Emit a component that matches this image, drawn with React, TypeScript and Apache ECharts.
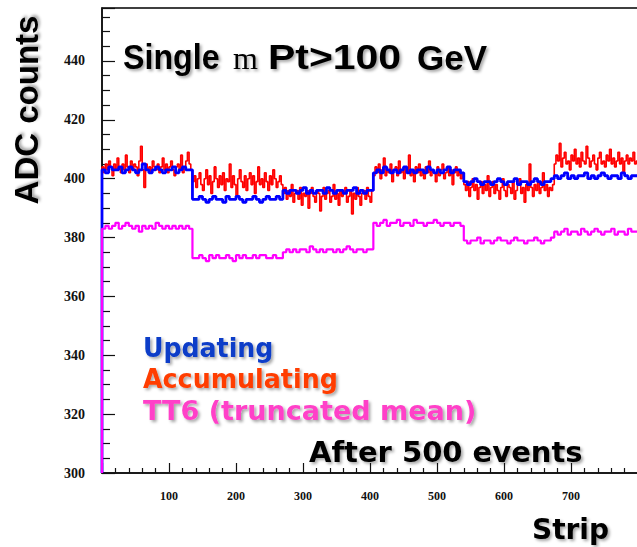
import React, { useEffect, useRef } from "react";
import * as echarts from "echarts";

// Pedestal levels (ADC counts), chip by chip, in strip groups.
const STRIP_MAX = 800;
const ACC_BIN = 2.5; // strips per value, accumulating pedestal
const BIN = 5; // strips per value, updating and TT6

const accumulating = [
  // strips 0-135
  404, 402, 405, 403, 406, 404, 401, 405, 403,
  407, 404, 402, 405, 403, 408, 404, 402, 406,
  403, 405, 404, 401, 406, 411, 403, 397, 405,
  403, 404, 402, 406, 404, 403, 405, 402, 404,
  407, 403, 405, 402, 404, 406, 403, 401, 404,
  405, 403, 408, 402, 404, 406, 409, 405, 403,
  // strips 135-270
  399, 401, 397, 400, 402, 398, 396, 400, 403,
  398, 401, 395, 399, 404, 400, 397, 401, 398,
  402, 396, 400, 399, 405, 397, 401, 398, 394,
  400, 403, 399, 397, 401, 396, 400, 402, 398,
  401, 395, 399, 404, 398, 400, 397, 402, 399,
  396, 401, 398, 403, 400, 397, 399, 401, 398,
  // strips 270-405
  395, 397, 393, 396, 394, 398, 392, 395, 396,
  393, 397, 391, 395, 394, 396, 390, 395, 397,
  394, 392, 396, 395, 389, 394, 397, 393, 395,
  396, 392, 394, 398, 393, 395, 391, 396, 394,
  395, 397, 392, 394, 396, 388, 395, 393, 397,
  394, 391, 395, 396, 393, 397, 394, 392, 396,
  // strips 405-540
  401, 404, 402, 405, 400, 403, 407, 401, 403,
  402, 405, 399, 403, 404, 401, 406, 402, 403,
  400, 404, 402, 408, 401, 403, 399, 404, 402,
  405, 401, 403, 400, 404, 402, 406, 401, 403,
  402, 399, 404, 401, 403, 405, 400, 402, 404,
  401, 403, 398, 402, 404, 401, 403, 400, 402,
  // strips 540-675
  398, 396, 399, 394, 397, 400, 396, 398, 393,
  397, 399, 395, 398, 396, 401, 394, 397, 399,
  395, 398, 396, 393, 397, 400, 396, 394, 398,
  397, 395, 399, 393, 396, 398, 400, 395, 397,
  392, 398, 396, 405, 397, 394, 398, 396, 399,
  395, 397, 402, 396, 398, 394, 397, 396, 398,
  // strips 675-800
  405, 408, 406, 412, 404, 407, 409, 405, 406,
  403, 408, 406, 410, 405, 407, 404, 409, 406,
  405, 411, 407, 404, 406, 408, 405, 403, 407,
  409, 405, 406, 404, 408, 406, 410, 405, 407,
  404, 406, 409, 405, 407, 402, 406, 408, 405,
  407, 406, 409, 405, 406,
];

const updating = [
  403, 402, 404, 403, 403, 404, 402, 403, 404, 403, 402, 403, 405, 403, 402, 403, 404, 403, 402, 403, 403, 404, 402, 403, 404, 403, 403,
  393, 393, 394, 393, 392, 393, 394, 393, 393, 392, 394, 393, 393, 394, 393, 392, 393, 393, 394, 393, 392, 393, 394, 393, 393, 394, 393,
  396, 395, 396, 396, 395, 396, 397, 395, 396, 395, 396, 396, 395, 397, 396, 395, 396, 396, 395, 396, 396, 397, 395, 396, 395, 396, 396,
  402, 403, 402, 404, 403, 402, 403, 402, 403, 404, 402, 403, 402, 403, 403, 402, 404, 403, 402, 403, 402, 403, 404, 402, 403, 403, 402,
  399, 398, 399, 400, 399, 398, 399, 399, 398, 399, 400, 399, 398, 399, 399, 400, 398, 399, 399, 398, 399, 400, 399, 398, 399, 399, 400,
  401, 400, 401, 402, 400, 401, 400, 401, 401, 402, 400, 401, 400, 401, 402, 401, 400, 401, 401, 400, 402, 401, 400, 401, 401,
];

const truncatedMean = [
  383, 384, 383, 384, 385, 383, 384, 385, 384, 383, 384, 382, 384, 383, 384, 383, 385, 384, 383, 384, 383, 384, 383, 384, 383, 384, 383,
  373, 373, 374, 373, 372, 374, 373, 374, 373, 373, 374, 373, 372, 374, 373, 374, 373, 373, 374, 373, 374, 374, 373, 373, 374, 373, 373,
  375, 376, 375, 376, 375, 376, 376, 375, 377, 376, 375, 376, 375, 376, 376, 375, 376, 375, 376, 377, 376, 375, 376, 376, 375, 376, 376,
  385, 384, 385, 386, 384, 385, 385, 386, 384, 385, 385, 384, 386, 385, 385, 384, 385, 385, 386, 385, 384, 385, 385, 384, 385, 385, 384,
  379, 378, 379, 379, 380, 378, 379, 379, 378, 379, 380, 379, 379, 378, 379, 380, 379, 379, 378, 379, 379, 380, 379, 378, 379, 379, 380,
  382, 381, 382, 383, 381, 382, 382, 381, 383, 382, 381, 382, 383, 382, 381, 382, 382, 383, 381, 382, 382, 381, 383, 382, 382,
];

const Y_MIN = 300;
const Y_MAX = 458;

// Histogram outline: rises from the axis floor at strip 0, one step per bin.
function histogram(values: number[], binWidth: number) {
  const pts: number[][] = [[0, Y_MIN]];
  values.forEach((v, i) => pts.push([i * binWidth, v]));
  pts.push([STRIP_MAX, values[values.length - 1]]);
  return pts;
}

const shadow = {
  textShadowColor: "rgba(0,0,0,0.35)",
  textShadowBlur: 3,
  textShadowOffsetX: 2,
  textShadowOffsetY: 2,
};

function label(
  text: string,
  x: number,
  y: number,
  font: { size: number; family: string; weight?: string },
  fill: string,
  scaleX = 1,
  rotation = 0,
  align = "left"
) {
  return {
    type: "text",
    x,
    y,
    scaleX,
    rotation,
    z: 10,
    style: {
      text,
      fill,
      fontSize: font.size,
      fontFamily: font.family,
      fontWeight: font.weight ?? "bold",
      align,
      verticalAlign: "middle",
      ...shadow,
    },
  };
}

export default function App() {
  const ref = useRef<HTMLDivElement>(null);

  useEffect(() => {
    if (!ref.current) return;
    const chart = echarts.init(ref.current, null, { renderer: "svg" });
    const sans = "Liberation Sans, Arial, sans-serif";
    const dejavu = "DejaVu Sans, sans-serif";
    const serif = "Liberation Serif, Times New Roman, serif";

    chart.setOption({
      animation: false,
      backgroundColor: "#ffffff",
      grid: {
        left: 102,
        top: 8,
        right: -1,
        bottom: 74,
        outerBoundsMode: "none",
        containLabel: false,
        show: true,
        borderColor: "#000",
        borderWidth: 1.5,
        backgroundColor: "transparent",
      },
      xAxis: {
        type: "value",
        min: 0,
        max: STRIP_MAX,
        interval: 100,
        axisLine: { show: true, lineStyle: { color: "#111", width: 1.5 } },
        axisTick: { show: true, inside: true, length: 10, lineStyle: { color: "#111", width: 1.2 } },
        minorTick: { show: true, splitNumber: 5, length: 5, lineStyle: { color: "#111", width: 1.2 } },
        splitLine: { show: false },
        axisLabel: {
          margin: 17,
          fontSize: 12,
          fontWeight: "bold",
          fontFamily: serif,
          color: "#111",
          formatter: (v: number) => (v === 0 || v === STRIP_MAX ? "" : String(v)),
        },
      },
      yAxis: {
        type: "value",
        min: Y_MIN,
        max: Y_MAX,
        interval: 20,
        axisLine: { show: true, lineStyle: { color: "#111", width: 1.5 } },
        axisTick: { show: true, inside: true, length: 13, lineStyle: { color: "#111", width: 1.2 } },
        minorTick: { show: true, splitNumber: 4, length: 8, lineStyle: { color: "#111", width: 1.2 } },
        splitLine: { show: false },
        axisLabel: {
          margin: 17,
          fontSize: 14,
          fontWeight: "bold",
          fontFamily: serif,
          color: "#111",
          showMaxLabel: false,
        },
      },
      series: [
        {
          name: "Accumulating",
          type: "line",
          step: "end",
          data: histogram(accumulating, ACC_BIN),
          showSymbol: false,
          clip: false,
          lineStyle: { color: "#ff0000", width: 1.6 },
          z: 2,
        },
        {
          name: "Updating",
          type: "line",
          step: "end",
          data: histogram(updating, BIN),
          showSymbol: false,
          clip: false,
          lineStyle: { color: "#0000ff", width: 2.8 },
          z: 3,
        },
        {
          name: "TT6 (truncated mean)",
          type: "line",
          step: "end",
          data: histogram(truncatedMean, BIN),
          showSymbol: false,
          clip: false,
          lineStyle: { color: "#ff00ff", width: 2.2 },
          z: 4,
        },
      ],
      graphic: [
        label("ADC counts", 26, 110, { size: 33, family: sans }, "#000", 1, Math.PI / 2, "center"),
        label("Single", 123, 57, { size: 35, family: sans }, "#000", 0.92),
        label("m", 233, 58, { size: 32, family: serif, weight: "normal" }, "#000"),
        label("Pt>100", 268, 57, { size: 35, family: sans }, "#000", 1.17),
        label("GeV", 417, 57, { size: 35, family: sans }, "#000", 1.0),
        label("Updating", 143, 348, { size: 26, family: dejavu }, "#0a3cc8", 0.97),
        label("Accumulating", 143, 379, { size: 26, family: dejavu }, "#ff3c00", 0.975),
        label("TT6 (truncated mean)", 143, 411, { size: 26, family: dejavu }, "#ff40c8", 1.04),
        label("After 500 events", 309, 452, { size: 29, family: dejavu }, "#000"),
        label("Strip", 532, 529, { size: 28, family: dejavu }, "#000"),
      ],
    });

    return () => chart.dispose();
  }, []);

  return (
    <div
      ref={ref}
      style={{ position: "fixed", left: 0, top: 0, width: 637, height: 547, background: "#fff" }}
    />
  );
}
